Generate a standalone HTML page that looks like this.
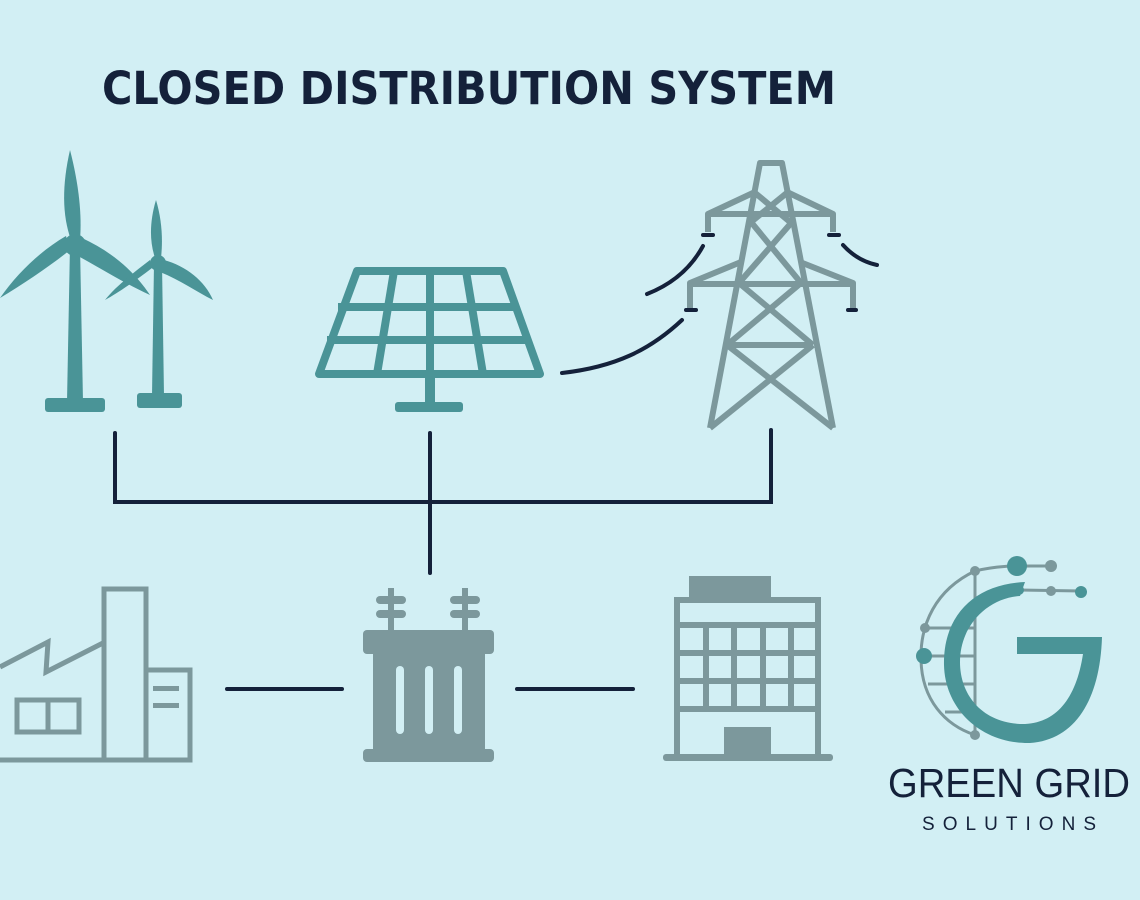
<!DOCTYPE html>
<html><head><meta charset="utf-8"><style>
html,body{margin:0;padding:0;background:#d2eff4;}
svg{display:block}
</style></head><body>
<svg width="1140" height="900" viewBox="0 0 1140 900" xmlns="http://www.w3.org/2000/svg">
<rect width="1140" height="900" fill="#d2eff4"/>
<text x="102" y="104" font-family="DejaVu Sans, Liberation Sans, sans-serif" font-weight="bold" font-size="45" fill="#14213a" textLength="734" lengthAdjust="spacingAndGlyphs">CLOSED DISTRIBUTION SYSTEM</text>

<!-- big turbine -->
<g fill="#4a9497">
<polygon points="70,245 80,245 83,402 67,402"/>
<rect x="45" y="398" width="60" height="14" rx="3"/>
<circle cx="75" cy="245" r="11"/>
<path d="M71,240 C62,215 62,185 70,150 C79,185 82,215 80,240 Z"/>
<path d="M70,250 C50,266 25,283 0,298 C18,272 42,250 66,236 Z"/>
<path d="M82,238 C108,250 132,268 150,295 C124,283 100,268 78,256 Z"/>
<!-- small turbine -->
<polygon points="154,263 162,263 164,396 152,396"/>
<rect x="137" y="393" width="45" height="15" rx="3"/>
<circle cx="158" cy="263" r="8"/>
<path d="M155,258 C149,240 150,220 156,200 C162,220 163,240 161,258 Z"/>
<path d="M152,268 C135,281 118,293 105,300 C115,287 133,273 150,260 Z"/>
<path d="M164,260 C186,266 205,281 213,300 C197,292 180,280 160,272 Z"/>
</g>

<!-- solar panel -->
<g fill="none" stroke="#4a9497" stroke-width="8" stroke-linejoin="round">
<polygon points="357,271 503,271 540,374 319,374"/>
<line x1="338" y1="307" x2="517" y2="307"/>
<line x1="327" y1="340" x2="528" y2="340"/>
<line x1="394" y1="271" x2="377" y2="374"/>
<line x1="430" y1="271" x2="430" y2="374"/>
<line x1="466" y1="271" x2="483" y2="374"/>
</g>
<rect x="425" y="374" width="10" height="32" fill="#4a9497"/>
<rect x="395" y="402" width="68" height="10" rx="3" fill="#4a9497"/>

<!-- tower -->
<g fill="none" stroke="#7c989c" stroke-width="6" stroke-linejoin="round">
<polyline points="710,428 760,163 782,163 833,428"/>
<line x1="754" y1="192" x2="790" y2="222"/>
<line x1="788" y1="192" x2="751" y2="222"/>
<line x1="751" y1="222" x2="801" y2="283"/>
<line x1="792" y1="222" x2="739" y2="283"/>
<line x1="739" y1="283" x2="813" y2="345"/>
<line x1="801" y1="283" x2="727" y2="345"/>
<line x1="727" y1="345" x2="833" y2="428"/>
<line x1="813" y1="345" x2="710" y2="428"/>
<line x1="727" y1="345" x2="813" y2="345"/>
<polyline points="755,192 708,214 708,232"/>
<polyline points="787,192 833,214 833,232"/>
<line x1="708" y1="214" x2="833" y2="214"/>
<polyline points="741,262 690,283 690,308"/>
<polyline points="800,262 853,283 853,308"/>
<line x1="690" y1="284" x2="853" y2="284"/>
</g>
<g stroke="#14213a" stroke-width="4" stroke-linecap="round" fill="none">
<line x1="703" y1="235" x2="713" y2="235"/><line x1="829" y1="235" x2="839" y2="235"/>
<line x1="686" y1="310" x2="696" y2="310"/><line x1="848" y1="310" x2="856" y2="310"/>
<path d="M703,246 C690,270 670,285 647,294"/>
<path d="M682,320 C650,350 615,367 562,373"/>
<path d="M843,245 C852,255 863,262 877,265"/>
</g>

<!-- connectors -->
<g stroke="#14213a" stroke-width="4" stroke-linecap="round" fill="none">
<polyline points="115,433 115,502 771,502 771,430"/>
<line x1="430" y1="433" x2="430" y2="573"/>
<line x1="227" y1="689" x2="342" y2="689"/>
<line x1="517" y1="689" x2="633" y2="689"/>
</g>

<!-- factory -->
<g fill="none" stroke="#7c989c" stroke-width="5">
<polyline points="0,667 48,642 46,672 103,643"/>
<rect x="104" y="589" width="42" height="171"/>
<polyline points="146,670 190,670 190,760 0,760"/>
<rect x="17" y="700" width="62" height="32"/>
<line x1="48" y1="700" x2="48" y2="732"/>
</g>
<rect x="153" y="686" width="26" height="5" fill="#7c989c"/>
<rect x="153" y="703" width="26" height="5" fill="#7c989c"/>

<!-- transformer -->
<g fill="#7c989c">
<rect x="373" y="640" width="112" height="115"/>
<rect x="363" y="630" width="131" height="24" rx="4"/>
<rect x="363" y="749" width="131" height="13" rx="4"/>
<rect x="388" y="588" width="6" height="45"/><rect x="462" y="588" width="6" height="45"/>
<rect x="376" y="596" width="30" height="8" rx="4"/><rect x="376" y="610" width="30" height="8" rx="4"/>
<rect x="450" y="596" width="30" height="8" rx="4"/><rect x="450" y="610" width="30" height="8" rx="4"/>
</g>
<g fill="#d2eff4">
<rect x="396" y="666" width="8" height="68" rx="4"/>
<rect x="425" y="666" width="8" height="68" rx="4"/>
<rect x="454" y="666" width="8" height="68" rx="4"/>
</g>

<!-- office -->
<g fill="#7c989c">
<rect x="689" y="576" width="82" height="24"/>
<rect x="724" y="727" width="47" height="32"/>
<rect x="663" y="754" width="170" height="7" rx="3"/>
</g>
<g fill="none" stroke="#7c989c" stroke-width="6">
<rect x="677" y="600" width="141" height="157"/>
<line x1="677" y1="625" x2="818" y2="625"/>
<line x1="677" y1="653" x2="818" y2="653"/>
<line x1="677" y1="681" x2="818" y2="681"/>
<line x1="677" y1="709" x2="818" y2="709"/>
<line x1="706" y1="625" x2="706" y2="709"/>
<line x1="734" y1="625" x2="734" y2="709"/>
<line x1="763" y1="625" x2="763" y2="709"/>
<line x1="791" y1="625" x2="791" y2="709"/>
</g>

<!-- logo -->
<g fill="none" stroke="#7c989c" stroke-width="3">
<path d="M975,571 C1000,565 1015,566 1050,566"/>
<path d="M975,571 C935,590 920,625 921,660 C922,700 945,725 975,735"/>
<line x1="975" y1="571" x2="975" y2="735"/>
<line x1="925" y1="628" x2="975" y2="628"/>
<line x1="922" y1="656" x2="975" y2="656"/>
<line x1="928" y1="684" x2="975" y2="684"/>
<line x1="945" y1="712" x2="975" y2="712"/>
<line x1="1019" y1="590" x2="1081" y2="591"/>
</g>
<g fill="#4a9497">
<path d="M1025,582 C975,584 943,615 944,665 C945,710 982,744 1030,743 C1075,740 1100,700 1102,637 L1017,637 L1017,654 L1083,654 C1076,700 1055,725 1020,724 C982,722 960,695 960,662 C960,625 988,598 1020,596 Z"/>
<circle cx="1017" cy="566" r="10"/>
<circle cx="924" cy="656" r="8"/>
<circle cx="1081" cy="592" r="6"/>
<circle cx="1019" cy="590" r="5"/>
</g>
<g fill="#7c989c">
<circle cx="1051" cy="566" r="6"/><circle cx="1051" cy="591" r="5"/>
<circle cx="975" cy="571" r="5"/><circle cx="925" cy="628" r="5"/><circle cx="975" cy="735" r="5"/>
</g>
<text x="888" y="797" font-family="Liberation Sans, sans-serif" font-size="41" fill="#14213a" textLength="242" lengthAdjust="spacingAndGlyphs">GREEN GRID</text>
<text x="922" y="830" font-family="Liberation Sans, sans-serif" font-size="19" fill="#14213a" textLength="174" lengthAdjust="spacing">SOLUTIONS</text>
</svg>
</body></html>
